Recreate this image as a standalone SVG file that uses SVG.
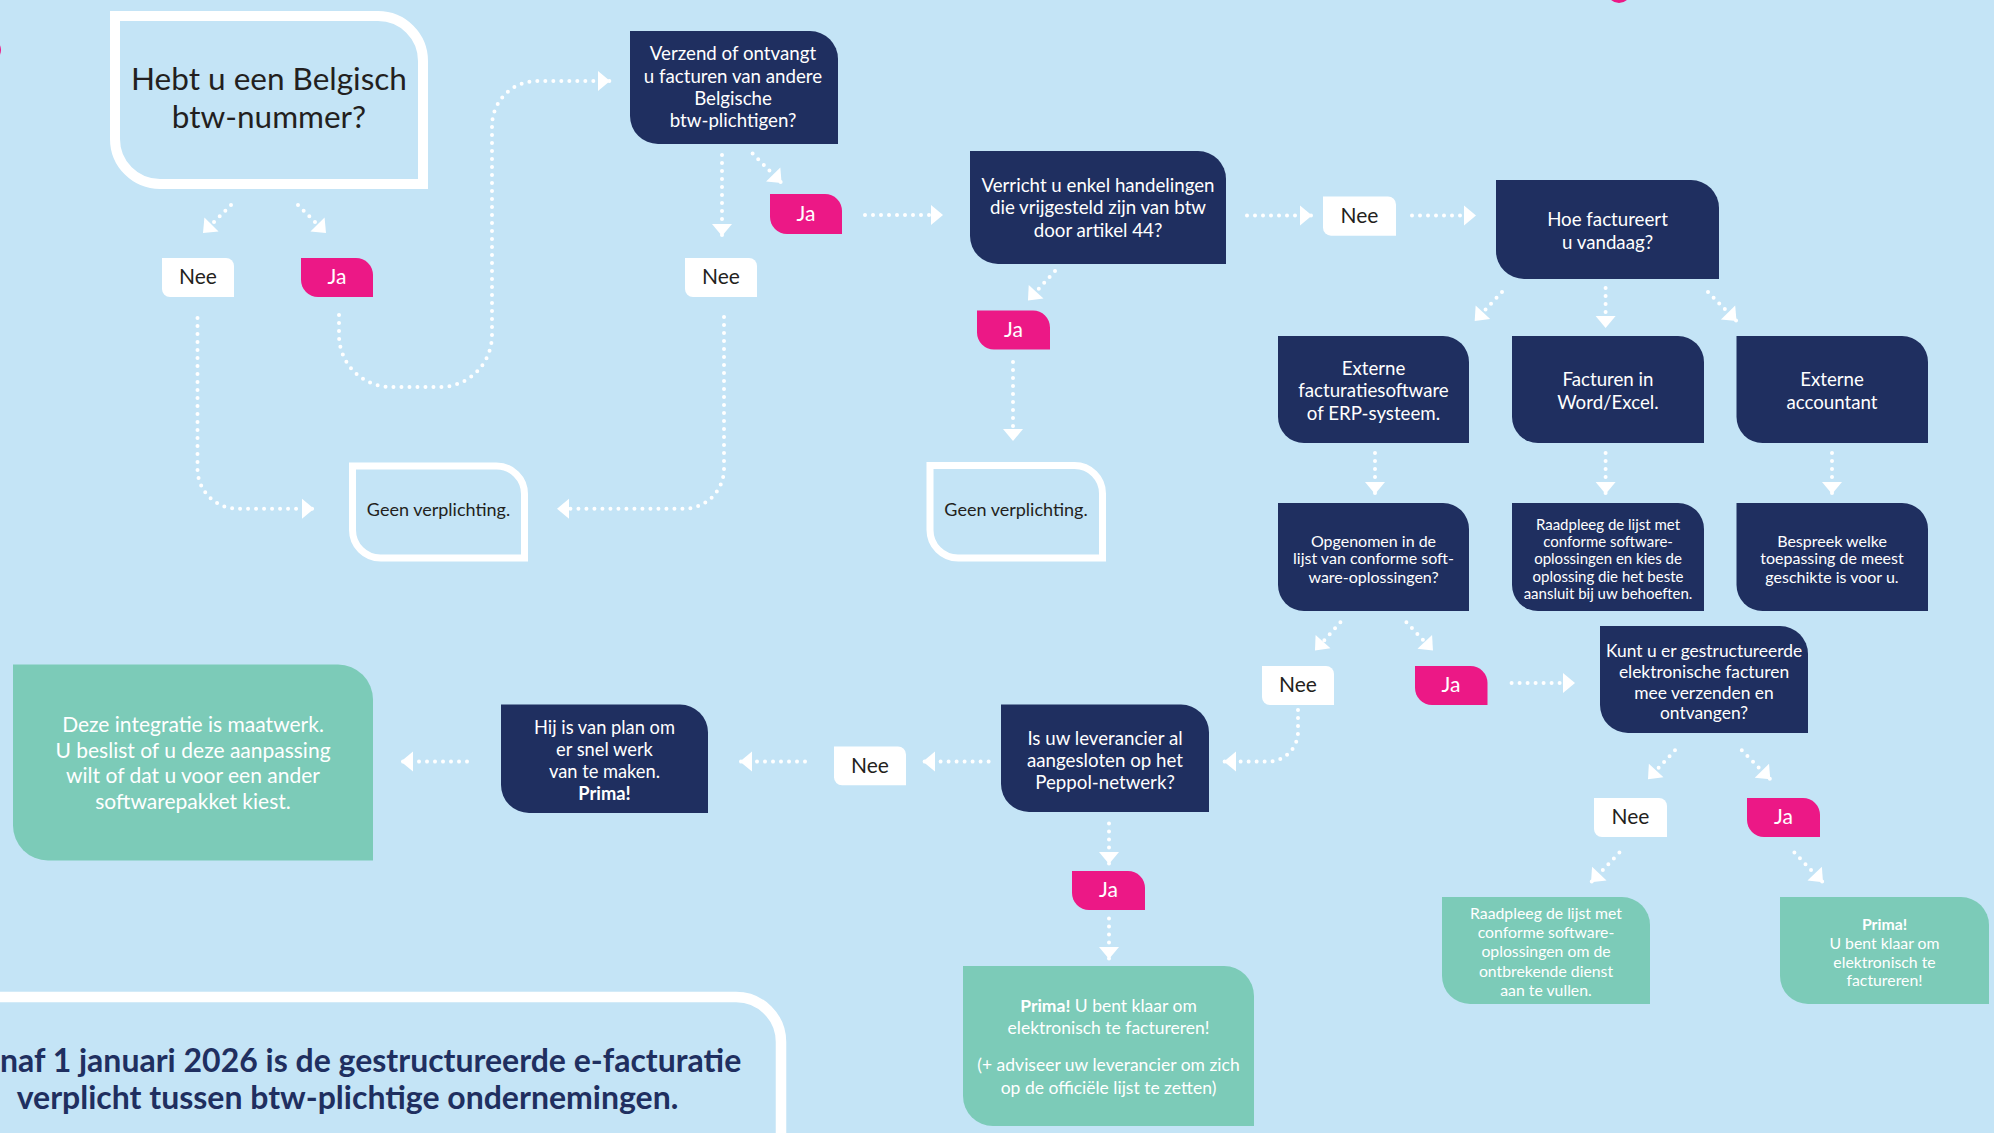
<svg xmlns="http://www.w3.org/2000/svg" width="1994" height="1133" viewBox="0 0 1994 1133">
<style>
text{font-family:Lato,"Noto Sans","Liberation Sans",sans-serif;text-anchor:middle}
.navy{fill:#1F2F60}
.pink{fill:#EC1886}
.green{fill:#7CCBB8}
.wlab{fill:#FFFFFF}
.outline{fill:none;stroke:#FFFFFF}
.tw{fill:#FFFFFF}
.td{fill:#231F20}
.t18{font-size:18.7px}
.t16{font-size:16px}
.t15{font-size:15px}
.t15g{font-size:15.8px}
.lab{font-size:21px}
.con path{fill:none;stroke:#FFFFFF;stroke-width:4;stroke-dasharray:0 8;stroke-linecap:round;marker-end:url(#ah)}
.b{font-weight:bold}
</style>
<defs>
<marker id="ah" markerUnits="userSpaceOnUse" markerWidth="24" markerHeight="24" orient="auto" overflow="visible">
<path d="M0,0 L-12,-10 L-12,10 Z" fill="#FFFFFF"/>
</marker>
</defs>
<rect x="0" y="0" width="1994" height="1133" fill="#C4E4F6"/>
<circle cx="1619" cy="-9" r="12" class="pink"/>
<circle cx="-10" cy="50" r="11" class="pink"/>

<g id="connectors" class="con">
<path d="M231,205 L203,233"/>
<path d="M298,205 L326,233"/>
<path d="M197.5,318 V468 A40,40 0 0 0 237.5,508.7 H314"/>
<path d="M339,315 V335 A52,52 0 0 0 391,387 H440 A52,52 0 0 0 492,335 V126 A45,45 0 0 1 537,81 H610"/>
<path d="M722,155 V236"/>
<path d="M752.6,153.5 L781.6,183"/>
<path d="M724,317 V468 A40,40 0 0 1 684,508.7 H557"/>
<path d="M865,215 H943"/>
<path d="M1247,215.5 H1312"/>
<path d="M1412,215.5 H1476"/>
<path d="M1055,271 L1028,300.5"/>
<path d="M1013,362 V441"/>
<path d="M1502,292 L1474.7,321"/>
<path d="M1605.6,288 V328"/>
<path d="M1708,292 L1736.5,321"/>
<path d="M1375,453 V494"/>
<path d="M1605.6,453 V494"/>
<path d="M1832,453 V494"/>
<path d="M1340.4,622.3 L1315,650.5"/>
<path d="M1406.4,622.3 L1433,650.5"/>
<path d="M1511.6,683 H1575"/>
<path d="M1298,710 V731 A30,30 0 0 1 1268,761.6 H1224"/>
<path d="M988.6,761.6 H923"/>
<path d="M805,761.6 H740"/>
<path d="M467,761.6 H401"/>
<path d="M1675,750.3 L1648,779.3"/>
<path d="M1741.8,750.3 L1770.3,779.3"/>
<path d="M1619.4,852.6 L1591,882.3"/>
<path d="M1794.4,852.6 L1823,882.3"/>
<path d="M1109,823.4 V864"/>
<path d="M1109,918.6 V959"/>
</g>

<g id="n-hebt">
<path class="outline" stroke-width="10" d="M115,16 H378 A45,45 0 0 1 423,61 V184 H160 A45,45 0 0 1 115,139 Z"/>
<text class="td" x="269" y="90" font-size="31.5">Hebt u een Belgisch</text>
<text class="td" x="269" y="128" font-size="31.5">btw-nummer?</text>
</g>

<g id="n-verzend">
<path class="navy" d="M630,31 H810 A28,28 0 0 1 838,59 V144 H658 A28,28 0 0 1 630,116 Z"/>
<text class="tw t18" x="733" y="60.3">Verzend of ontvangt</text>
<text class="tw t18" x="733" y="82.5">u facturen van andere</text>
<text class="tw t18" x="733" y="104.7">Belgische</text>
<text class="tw t18" x="733" y="126.9">btw-plichtigen?</text>
</g>

<g id="l-nee1">
<path class="wlab" d="M162,258 H226 A8,8 0 0 1 234,266 V297 H170 A8,8 0 0 1 162,289 Z"/>
<text class="td lab" x="198" y="284">Nee</text>
</g>
<g id="l-ja1">
<path class="pink" d="M301,258 H356 A17,17 0 0 1 373,275 V297 H318 A17,17 0 0 1 301,280 Z"/>
<text class="tw lab" x="337" y="284">Ja</text>
</g>
<g id="l-ja2">
<path class="pink" d="M770,194 H825 A17,17 0 0 1 842,211 V234 H787 A17,17 0 0 1 770,217 Z"/>
<text class="tw lab" x="806" y="220.5">Ja</text>
</g>
<g id="l-nee2">
<path class="wlab" d="M685,258 H749 A8,8 0 0 1 757,266 V297 H693 A8,8 0 0 1 685,289 Z"/>
<text class="td lab" x="721" y="284">Nee</text>
</g>

<g id="n-geen1">
<path class="outline" stroke-width="7" d="M352.5,466 H496.5 A28,28 0 0 1 524.5,494 V558 H380.5 A28,28 0 0 1 352.5,530 Z"/>
<text class="td" font-size="18" x="438.5" y="516">Geen verplichting.</text>
</g>

<g id="n-verricht">
<path class="navy" d="M970,151 H1198 A28,28 0 0 1 1226,179 V264 H998 A28,28 0 0 1 970,236 Z"/>
<text class="tw t18" x="1098" y="192.3">Verricht u enkel handelingen</text>
<text class="tw t18" x="1098" y="214.3">die vrijgesteld zijn van btw</text>
<text class="tw t18" x="1098" y="237">door artikel 44?</text>
</g>

<g id="l-nee3">
<path class="wlab" d="M1323,196.5 H1388 A8,8 0 0 1 1396,204.5 V235.7 H1331 A8,8 0 0 1 1323,227.7 Z"/>
<text class="td lab" x="1359.5" y="222.5">Nee</text>
</g>

<g id="n-hoe">
<path class="navy" d="M1496,180 H1691 A28,28 0 0 1 1719,208 V279 H1524 A28,28 0 0 1 1496,251 Z"/>
<text class="tw t18" x="1607.5" y="226">Hoe factureert</text>
<text class="tw t18" x="1607.5" y="248.5">u vandaag?</text>
</g>

<g id="l-ja3">
<path class="pink" d="M977,310.4 H1033 A17,17 0 0 1 1050,327.4 V349.5 H994 A17,17 0 0 1 977,332.5 Z"/>
<text class="tw lab" x="1013.5" y="336.5">Ja</text>
</g>

<g id="n-geen2">
<path class="outline" stroke-width="7" d="M930,465.5 H1074.5 A28,28 0 0 1 1102.5,493.5 V558 H958 A28,28 0 0 1 930,530 Z"/>
<text class="td" font-size="18" x="1016" y="516">Geen verplichting.</text>
</g>

<g id="n-ext1">
<path class="navy" d="M1278,336 H1443 A26,26 0 0 1 1469,362 V443 H1304 A26,26 0 0 1 1278,417 Z"/>
<text class="tw t18" x="1373.5" y="375">Externe</text>
<text class="tw t18" x="1373.5" y="397">facturatiesoftware</text>
<text class="tw t18" x="1373.5" y="420">of ERP-systeem.</text>
</g>
<g id="n-fact">
<path class="navy" d="M1512,336 H1678 A26,26 0 0 1 1704,362 V443 H1538 A26,26 0 0 1 1512,417 Z"/>
<text class="tw t18" x="1608" y="386">Facturen in</text>
<text class="tw t18" x="1608" y="408.5">Word/Excel.</text>
</g>
<g id="n-ext2">
<path class="navy" d="M1736.5,336 H1902 A26,26 0 0 1 1928,362 V443 H1762.5 A26,26 0 0 1 1736.5,417 Z"/>
<text class="tw t18" x="1832" y="386">Externe</text>
<text class="tw t18" x="1832" y="408.5">accountant</text>
</g>

<g id="n-opgenomen">
<path class="navy" d="M1278,503 H1443 A26,26 0 0 1 1469,529 V611 H1304 A26,26 0 0 1 1278,585 Z"/>
<text class="tw t16" x="1373.5" y="546.6">Opgenomen in de</text>
<text class="tw t16" x="1373.5" y="564.4">lijst van conforme soft-</text>
<text class="tw t16" x="1373.5" y="582.6">ware-oplossingen?</text>
</g>
<g id="n-raadpleeg1">
<path class="navy" d="M1512,503 H1678 A26,26 0 0 1 1704,529 V611 H1538 A26,26 0 0 1 1512,585 Z"/>
<text class="tw t15" x="1608" y="529.6">Raadpleeg de lijst met</text>
<text class="tw t15" x="1608" y="547">conforme software-</text>
<text class="tw t15" x="1608" y="564.3">oplossingen en kies de</text>
<text class="tw t15" x="1608" y="582.2">oplossing die het beste</text>
<text class="tw t15" x="1608" y="599.2">aansluit bij uw behoeften.</text>
</g>
<g id="n-bespreek">
<path class="navy" d="M1736.5,503 H1902 A26,26 0 0 1 1928,529 V611 H1762.5 A26,26 0 0 1 1736.5,585 Z"/>
<text class="tw t16" x="1832" y="546.6">Bespreek welke</text>
<text class="tw t16" x="1832" y="564.4">toepassing de meest</text>
<text class="tw t16" x="1832" y="582.6">geschikte is voor u.</text>
</g>

<g id="l-nee4">
<path class="wlab" d="M1262,666 H1326 A8,8 0 0 1 1334,674 V705 H1270 A8,8 0 0 1 1262,697 Z"/>
<text class="td lab" x="1298" y="692">Nee</text>
</g>
<g id="l-ja4">
<path class="pink" d="M1415,666 H1470.5 A17,17 0 0 1 1487.5,683 V705 H1432 A17,17 0 0 1 1415,688 Z"/>
<text class="tw lab" x="1451" y="692">Ja</text>
</g>

<g id="n-kunt">
<path class="navy" d="M1600,626 H1780 A28,28 0 0 1 1808,654 V733 H1628 A28,28 0 0 1 1600,705 Z"/>
<text class="tw" font-size="17.4" x="1704" y="657">Kunt u er gestructureerde</text>
<text class="tw" font-size="17.4" x="1704" y="678.2">elektronische facturen</text>
<text class="tw" font-size="17.4" x="1704" y="699.4">mee verzenden en</text>
<text class="tw" font-size="17.4" x="1704" y="719.1">ontvangen?</text>
</g>

<g id="n-isuw">
<path class="navy" d="M1001,704.5 H1181 A28,28 0 0 1 1209,732.5 V812 H1029 A28,28 0 0 1 1001,784 Z"/>
<text class="tw t18" x="1105" y="744.5">Is uw leverancier al</text>
<text class="tw t18" x="1105" y="767">aangesloten op het</text>
<text class="tw t18" x="1105" y="789.3">Peppol-netwerk?</text>
</g>

<g id="l-nee5">
<path class="wlab" d="M834,746.5 H898 A8,8 0 0 1 906,754.5 V785.3 H842 A8,8 0 0 1 834,777.3 Z"/>
<text class="td lab" x="870" y="772.5">Nee</text>
</g>

<g id="n-hij">
<path class="navy" d="M501,704.5 H680 A28,28 0 0 1 708,732.5 V813 H529 A28,28 0 0 1 501,785 Z"/>
<text class="tw" font-size="18.3" x="604.5" y="733.8">Hij is van plan om</text>
<text class="tw" font-size="18.3" x="604.5" y="755.7">er snel werk</text>
<text class="tw" font-size="18.3" x="604.5" y="777.9">van te maken.</text>
<text class="tw b" font-size="18.3" x="604.5" y="799.8">Prima!</text>
</g>

<g id="n-deze">
<path class="green" d="M13,664.6 H338 A35,35 0 0 1 373,699.6 V860.4 H48 A35,35 0 0 1 13,825.4 Z"/>
<text class="tw" font-size="21" x="193" y="732">Deze integratie is maatwerk.</text>
<text class="tw" font-size="21" x="193" y="757.7">U beslist of u deze aanpassing</text>
<text class="tw" font-size="21" x="193" y="783">wilt of dat u voor een ander</text>
<text class="tw" font-size="21" x="193" y="809">softwarepakket kiest.</text>
</g>

<g id="l-nee6">
<path class="wlab" d="M1594,798 H1659 A8,8 0 0 1 1667,806 V837 H1602 A8,8 0 0 1 1594,829 Z"/>
<text class="td lab" x="1630.5" y="824">Nee</text>
</g>
<g id="l-ja5">
<path class="pink" d="M1747,798 H1803 A17,17 0 0 1 1820,815 V837 H1764 A17,17 0 0 1 1747,820 Z"/>
<text class="tw lab" x="1783.5" y="824">Ja</text>
</g>
<g id="l-ja6">
<path class="pink" d="M1072,871 H1128 A17,17 0 0 1 1145,888 V910 H1089 A17,17 0 0 1 1072,893 Z"/>
<text class="tw lab" x="1108.5" y="897">Ja</text>
</g>

<g id="n-raadpleeg2">
<path class="green" d="M1442,897 H1622 A28,28 0 0 1 1650,925 V1004 H1470 A28,28 0 0 1 1442,976 Z"/>
<text class="tw t15g" x="1546" y="919">Raadpleeg de lijst met</text>
<text class="tw t15g" x="1546" y="938">conforme software-</text>
<text class="tw t15g" x="1546" y="957.3">oplossingen om de</text>
<text class="tw t15g" x="1546" y="976.8">ontbrekende dienst</text>
<text class="tw t15g" x="1546" y="995.5">aan te vullen.</text>
</g>
<g id="n-prima1">
<path class="green" d="M1780,897 H1961 A28,28 0 0 1 1989,925 V1004 H1808 A28,28 0 0 1 1780,976 Z"/>
<text class="tw t15g b" x="1884.5" y="929.5">Prima!</text>
<text class="tw t15g" x="1884.5" y="948.8">U bent klaar om</text>
<text class="tw t15g" x="1884.5" y="967.5">elektronisch te</text>
<text class="tw t15g" x="1884.5" y="986.2">factureren!</text>
</g>

<g id="n-prima2">
<path class="green" d="M963,966 H1224 A30,30 0 0 1 1254,996 V1126 H993 A30,30 0 0 1 963,1096 Z"/>
<text class="tw" font-size="17.5" x="1108.5" y="1012"><tspan font-weight="bold">Prima!</tspan> U bent klaar om</text>
<text class="tw" font-size="17.5" x="1108.5" y="1034">elektronisch te factureren!</text>
<text class="tw" font-size="17.5" x="1108.5" y="1071">(+ adviseer uw leverancier om zich</text>
<text class="tw" font-size="17.5" x="1108.5" y="1094">op de officiële lijst te zetten)</text>
</g>

<g id="n-note">
<path class="outline" stroke-width="10.5" d="M-30,997 H736 A45,45 0 0 1 781,1042 V1160"/>
<text class="b" fill="#1F2F60" font-size="32" x="0" y="1072" style="text-anchor:start">naf 1 januari 2026 is de gestructureerde e-facturatie</text>
<text class="b" fill="#1F2F60" font-size="32" x="347.5" y="1109">verplicht tussen btw-plichtige ondernemingen.</text>
</g>
</svg>
